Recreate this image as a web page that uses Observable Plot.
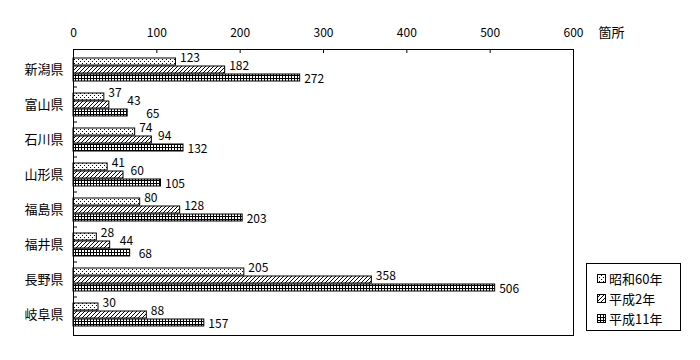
<!DOCTYPE html>
<html>
<head>
<meta charset="utf-8">
<script src="https://cdn.jsdelivr.net/npm/d3@7"></script>
<script src="https://cdn.jsdelivr.net/npm/@observablehq/plot@0.6"></script>
<style>
  body { margin: 0; background: #fff; }
  #wrap { position: relative; width: 700px; height: 360px; font-family: "Noto Sans CJK JP", sans-serif; }
  #wrap svg.chart { position: absolute; left: 0; top: 0; }
  #legend { position: absolute; left: 586px; top: 263px; width: 95px; height: 68px; border: 1px solid #000; box-sizing: border-box; padding-top: 4px; background: #fff; }
  .lrow { display: flex; align-items: center; height: 20px; padding-left: 10px; font-size: 13px; color: #000; }
  .lrow svg { margin-right: 3px; }
  g[aria-label="y-axis tick label"] { font-size: 13px; }
</style>
</head>
<body>
<div id="wrap"></div>
<script>
const prefectures = ["新潟県", "富山県", "石川県", "山形県", "福島県", "福井県", "長野県", "岐阜県"];
const seriesNames = ["昭和60年", "平成2年", "平成11年"];
const showa60  = [123, 37, 74, 41, 80, 28, 205, 30];
const heisei2  = [182, 43, 94, 60, 128, 44, 358, 88];
const heisei11 = [272, 65, 132, 105, 203, 68, 506, 157];
const xTicks = [0, 100, 200, 300, 400, 500, 600];
const unitLabel = "箇所";

const seriesValues = [showa60, heisei2, heisei11];
const patternIds = ["patDots", "patDiag", "patGrid"];

const W = 700, H = 360;
const mL = 73, mR = 127, mT = 49, mB = 25;
const innerH = H - mT - mB;
const step = innerH / prefectures.length;
const bw = 24;
const pInner = (step - bw) / step;
const barH = bw / 3;
const insets = [[0, 2 * barH], [barH, barH], [2 * barH, 0]];
const labelDy = [-12, -4, 9];
const labelFont = 12;
const labelGap = 4;

// x scale shared with the plot, used to keep value labels of adjacent bars from colliding
const xScale = Plot.scale({x: {domain: [0, 600], range: [mL, W - mR]}});
const digitW = labelFont * 0.58;

const rowsBySeries = seriesValues.map((vals, s) =>
  prefectures.map((p, i) => ({pref: p, series: seriesNames[s], value: vals[i], labelX: vals[i]}))
);
prefectures.forEach((p, i) => {
  let prevStart = null, prevW = 0;
  rowsBySeries.forEach((rows, s) => {
    const r = rows[i];
    let start = xScale.apply(r.value) + labelGap;
    if (prevStart !== null) start = Math.max(start, prevStart + prevW + 5);
    r.labelX = xScale.invert(start - labelGap);
    prevStart = start;
    prevW = String(r.value).length * digitW;
  });
});

const marks = [];
rowsBySeries.forEach((rows, s) => {
  marks.push(Plot.barX(rows, {
    x: "value", y: "pref",
    fill: `url(#${patternIds[s]})`, stroke: "black", strokeWidth: 1,
    insetTop: insets[s][0], insetBottom: insets[s][1]
  }));
});
rowsBySeries.forEach((rows, s) => {
  marks.push(Plot.text(rows, {
    x: "labelX", y: "pref", text: d => String(d.value),
    dx: labelGap, dy: labelDy[s], textAnchor: "start", fontSize: labelFont, fill: "black"
  }));
});
marks.push(Plot.ruleX(xTicks.slice(1, -1), {stroke: "black", insetBottom: innerH - 4}));
marks.push(Plot.ruleY(prefectures.slice(1), {stroke: "black", dy: -Math.round(step / 2), insetRight: (W - mL - mR) - 4}));
marks.push(Plot.frame({stroke: "black"}));
marks.push(Plot.text([unitLabel], {text: d => d, frameAnchor: "top-right", dx: 25, dy: -13, textAnchor: "start", lineAnchor: "bottom", fontSize: 13, fill: "black"}));

const chart = Plot.plot({
  width: W, height: H,
  marginLeft: mL, marginRight: mR, marginTop: mT, marginBottom: mB,
  style: {fontFamily: '"Noto Sans CJK JP", sans-serif', fontSize: "12px", color: "black", background: "white"},
  x: {domain: [0, 600], axis: "top", ticks: xTicks, tickSize: 0, tickPadding: 13, label: null},
  y: {domain: prefectures, paddingInner: pInner, paddingOuter: pInner / 2, tickSize: 0, tickPadding: 10, label: null},
  marks
});
chart.classList.add("chart");

const defsHtml = `
<pattern id="patDots" width="4" height="4" patternUnits="userSpaceOnUse">
  <rect width="4" height="4" fill="white"/>
  <rect x="0" y="1" width="1" height="1" fill="black"/>
  <rect x="2" y="3" width="1" height="1" fill="black"/>
</pattern>
<pattern id="patDiag" width="4" height="4" patternUnits="userSpaceOnUse">
  <rect width="4" height="4" fill="white"/>
  <path d="M-1,1 L1,-1 M0,4 L4,0 M3,5 L5,3" stroke="black" stroke-width="1"/>
</pattern>
<pattern id="patGrid" width="3" height="3" patternUnits="userSpaceOnUse">
  <rect width="3" height="3" fill="white"/>
  <rect x="0" y="0" width="3" height="1" fill="black"/>
  <rect x="0" y="0" width="1" height="3" fill="black"/>
</pattern>`;
const defs = document.createElementNS("http://www.w3.org/2000/svg", "defs");
defs.innerHTML = defsHtml;
chart.insertBefore(defs, chart.firstChild);

const wrap = document.getElementById("wrap");
wrap.appendChild(chart);

const legend = document.createElement("div");
legend.id = "legend";
seriesNames.forEach((name, s) => {
  const row = document.createElement("div");
  row.className = "lrow";
  row.innerHTML = `<svg width="9" height="9"><rect x="0.5" y="0.5" width="8" height="8" fill="url(#${patternIds[s]})" stroke="black"/></svg><span>${name}</span>`;
  legend.appendChild(row);
});
wrap.appendChild(legend);
</script>
</body>
</html>
